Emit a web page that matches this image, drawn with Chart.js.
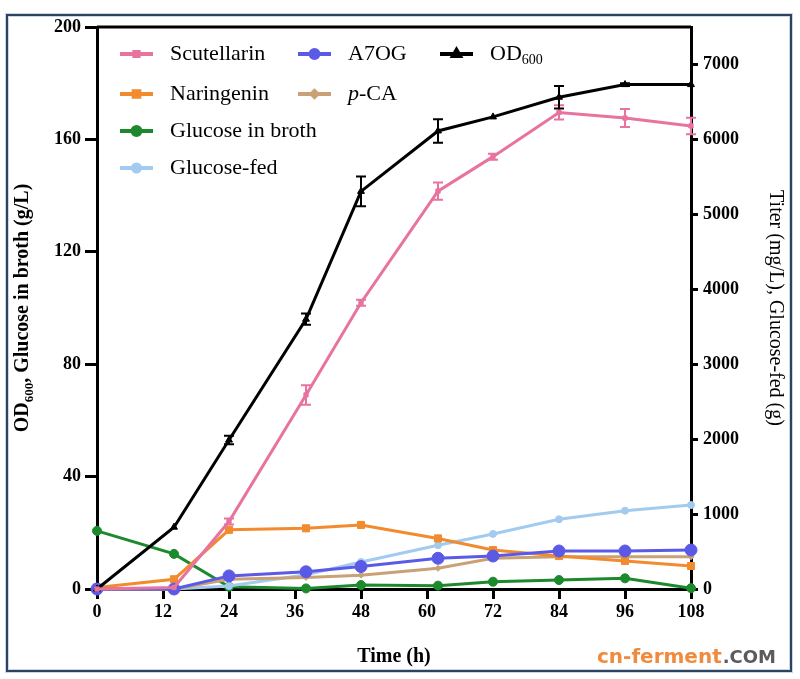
<!DOCTYPE html>
<html>
<head>
<meta charset="utf-8">
<script src="https://cdn.jsdelivr.net/npm/chart.js@4.4.0/dist/chart.umd.min.js"></script>
<style>
  html, body { margin: 0; padding: 0; background: #fff; }
  canvas { display: block; }
</style>
</head>
<body>
<canvas id="myChart" width="800" height="679"></canvas>
<script>
// sampling times (h)
const times = [0, 14, 24, 38, 48, 62, 72, 84, 96, 108];

// left axis: OD600 and glucose in broth (g/L)
const od600 = [0, 22, 53, 96, 141.5, 163, 168, 175, 179.5, 179.5];
const od600Err = [0, 0, 1.5, 2, 5.3, 4.2, 0, 4, 0.5, 0];
const glucoseBroth = [20.7, 12.5, 0.8, 0.2, 1.4, 1.2, 2.6, 3.2, 3.8, 0.3];

// right axis: titers (mg/L) and glucose fed (g)
const scutellarin = [0, 20, 900, 2590, 3820, 5310, 5770, 6360, 6285, 6180];
const scutellarinErr = [0, 0, 40, 130, 40, 115, 40, 95, 120, 110];
const naringenin = [20, 130, 790, 810, 855, 675, 520, 440, 375, 307];
const a7og = [0, 0, 175, 230, 300, 410, 440, 507, 507, 520];
const pCA = [0, 0, 130, 155, 185, 276, 410, 430, 430, 430];
const glucoseFed = [0, 0, 40, 190, 360, 585, 735, 930, 1045, 1120];

// tick labels
const xTicks = [0, 12, 24, 36, 48, 60, 72, 84, 96, 108];
const leftTicks = [0, 40, 80, 120, 160, 200];
const rightTicks = [0, 1000, 2000, 3000, 4000, 5000, 6000, 7000];

const pts = vals => vals.map((v, i) => ({ x: times[i], y: v }));
const serif = 'Liberation Serif';

function makeSet(label, vals, color, axis, style, radius, extra) {
    return Object.assign({
        label: label,
        data: pts(vals),
        yAxisID: axis,
        borderColor: color,
        backgroundColor: color,
        borderWidth: 3,
        pointStyle: style,
        pointRadius: radius,
        pointBorderWidth: 1,
        tension: 0,
        clip: false,
    }, extra || {});
}

const datasets = [
    makeSet('Scutellarin', scutellarin, '#e8739f', 'y1', 'rect', 3, { errors: scutellarinErr }),
    makeSet('OD600', od600, '#000000', 'y', 'triangle', 4, { errors: od600Err }),
    makeSet('A7OG', a7og, '#5a5ae6', 'y1', 'circle', 6),
    makeSet('Naringenin', naringenin, '#f28a2e', 'y1', 'rect', 5),
    makeSet('p-CA', pCA, '#c9a174', 'y1', 'rectRot', 3),
    makeSet('Glucose-fed', glucoseFed, '#a3cbef', 'y1', 'circle', 3.5),
    makeSet('Glucose in broth', glucoseBroth, '#1c8a2c', 'y', 'circle', 4.5),
];

// error bars drawn through the scales
const errorBars = {
    id: 'errorBars',
    afterDatasetsDraw(chart) {
        const ctx = chart.ctx;
        chart.data.datasets.forEach((ds, i) => {
            if (!ds.errors) return;
            const ys = chart.scales[ds.yAxisID];
            const xs = chart.scales.x;
            ctx.save();
            ctx.strokeStyle = ds.borderColor;
            ctx.lineWidth = 2;
            ds.data.forEach((p, j) => {
                const e = ds.errors[j];
                if (!e) return;
                const px = xs.getPixelForValue(p.x);
                const top = ys.getPixelForValue(p.y + e);
                const bot = ys.getPixelForValue(p.y - e);
                ctx.beginPath();
                ctx.moveTo(px, top); ctx.lineTo(px, bot);
                ctx.moveTo(px - 5, top); ctx.lineTo(px + 5, top);
                ctx.moveTo(px - 5, bot); ctx.lineTo(px + 5, bot);
                ctx.stroke();
            });
            ctx.restore();
        });
    }
};

// frame, titles, legend, watermark
const decorations = {
    id: 'decorations',
    beforeDraw(chart) {
        const ctx = chart.ctx;
        ctx.save();
        ctx.fillStyle = '#fff';
        ctx.fillRect(0, 0, chart.width, chart.height);
        ctx.strokeStyle = '#c9d6e6';
        ctx.lineWidth = 4;
        ctx.strokeRect(7, 15, 784, 656);
        ctx.strokeStyle = '#2e4260';
        ctx.lineWidth = 2;
        ctx.strokeRect(7, 15, 784, 656);
        ctx.restore();
    },
    afterDraw(chart) {
        const ctx = chart.ctx;
        const area = chart.chartArea;
        ctx.save();

        // top border of the plot box
        ctx.strokeStyle = '#000';
        ctx.lineWidth = 3;
        ctx.beginPath();
        ctx.moveTo(area.left, area.top);
        ctx.lineTo(area.right, area.top);
        ctx.stroke();

        ctx.fillStyle = '#000';
        ctx.textBaseline = 'alphabetic';

        // x title
        ctx.font = 'bold 20px ' + serif;
        ctx.textAlign = 'center';
        ctx.fillText('Time (h)', (area.left + area.right) / 2, 662);

        // left title with subscript
        const midY = (area.top + area.bottom) / 2;
        ctx.save();
        ctx.translate(28, midY);
        ctx.rotate(-Math.PI / 2);
        ctx.textAlign = 'left';
        const big = 'bold 20px ' + serif, small = 'bold 13px ' + serif;
        ctx.font = big; const w1 = ctx.measureText('OD').width;
        ctx.font = small; const w2 = ctx.measureText('600').width;
        ctx.font = big; const w3 = ctx.measureText(', Glucose in broth (g/L)').width;
        let sx = -(w1 + w2 + w3) / 2;
        ctx.fillText('OD', sx, 0);
        ctx.font = small; ctx.fillText('600', sx + w1, 5);
        ctx.font = big; ctx.fillText(', Glucose in broth (g/L)', sx + w1 + w2, 0);
        ctx.restore();

        // right title
        ctx.save();
        ctx.translate(770, midY);
        ctx.rotate(Math.PI / 2);
        ctx.textAlign = 'center';
        ctx.font = '20px ' + serif;
        ctx.fillText('Titer (mg/L), Glucose-fed (g)', 0, 0);
        ctx.restore();

        // legend
        const layout = [
            ['Scutellarin', 120, 54], ['A7OG', 298, 54], ['OD600', 440, 54],
            ['Naringenin', 120, 94], ['p-CA', 298, 94],
            ['Glucose in broth', 120, 131],
            ['Glucose-fed', 120, 168],
        ];
        const lf = '22px ' + serif;
        layout.forEach(([name, x, y]) => {
            const ds = chart.data.datasets.find(d => d.label === name);
            ctx.strokeStyle = ds.borderColor;
            ctx.fillStyle = ds.backgroundColor;
            ctx.lineWidth = 4;
            ctx.beginPath();
            ctx.moveTo(x, y); ctx.lineTo(x + 33, y);
            ctx.stroke();
            Chart.helpers.drawPoint(ctx, { pointStyle: ds.pointStyle, radius: Math.min(ds.pointRadius, 4), rotation: 0, borderWidth: 1 }, x + 16.5, y);
            ctx.fillStyle = '#000';
            ctx.textAlign = 'left';
            ctx.textBaseline = 'middle';
            const tx = x + 50;
            if (name === 'OD600') {
                ctx.font = lf;
                ctx.fillText('OD', tx, y);
                const w = ctx.measureText('OD').width;
                ctx.font = '14px ' + serif;
                ctx.fillText('600', tx + w, y + 6);
            } else if (name === 'p-CA') {
                ctx.font = 'italic ' + lf;
                ctx.fillText('p', tx, y);
                const w = ctx.measureText('p').width;
                ctx.font = lf;
                ctx.fillText('-CA', tx + w, y);
            } else {
                ctx.font = lf;
                ctx.fillText(name, tx, y);
            }
        });

        // watermark
        ctx.textBaseline = 'alphabetic';
        ctx.textAlign = 'left';
        ctx.font = 'bold 20px "DejaVu Sans"';
        ctx.fillStyle = '#f08a3c';
        ctx.fillText('cn-ferment', 597, 663);
        const ww = ctx.measureText('cn-ferment').width;
        ctx.font = 'bold 18px "DejaVu Sans"';
        ctx.fillStyle = '#5b5b5b';
        ctx.fillText('.COM', 597 + ww + 1, 663);

        ctx.restore();
    }
};

const tickFont = { family: serif, size: 18, weight: 'bold' };
const axisGrid = len => ({ drawOnChartArea: false, drawTicks: true, tickLength: len, color: '#000', lineWidth: 3 });
const axisBorder = { display: true, color: '#000', width: 3 };
const keepTicks = list => scale => { scale.ticks = list.map(v => ({ value: v })); };
const plain = v => String(v);

const ctx = document.getElementById('myChart').getContext('2d');
const myChart = new Chart(ctx, {
    type: 'line',
    data: { datasets: datasets },
    options: {
        responsive: false,
        animation: false,
        layout: { padding: { top: 27, left: 0, right: 0, bottom: 0 } },
        plugins: { legend: { display: false }, tooltip: { enabled: false } },
        scales: {
            x: {
                type: 'linear', min: 0, max: 108,
                afterBuildTicks: keepTicks(xTicks),
                ticks: { font: tickFont, color: '#000', padding: 3, maxRotation: 0, callback: plain },
                grid: axisGrid(10),
                border: axisBorder,
                afterFit: s => { s.height = 90; },
            },
            y: {
                position: 'left', min: 0, max: 200,
                afterBuildTicks: keepTicks(leftTicks),
                ticks: { font: tickFont, color: '#000', padding: 4, callback: plain },
                grid: axisGrid(12),
                border: axisBorder,
                afterFit: s => { s.width = 97; },
            },
            y1: {
                position: 'right', min: 0, max: 7500,
                afterBuildTicks: keepTicks(rightTicks),
                ticks: { font: tickFont, color: '#000', padding: 5, callback: plain },
                grid: axisGrid(7),
                border: axisBorder,
                afterFit: s => { s.width = 109; },
            },
        },
    },
    plugins: [decorations, errorBars],
});
</script>
</body>
</html>
